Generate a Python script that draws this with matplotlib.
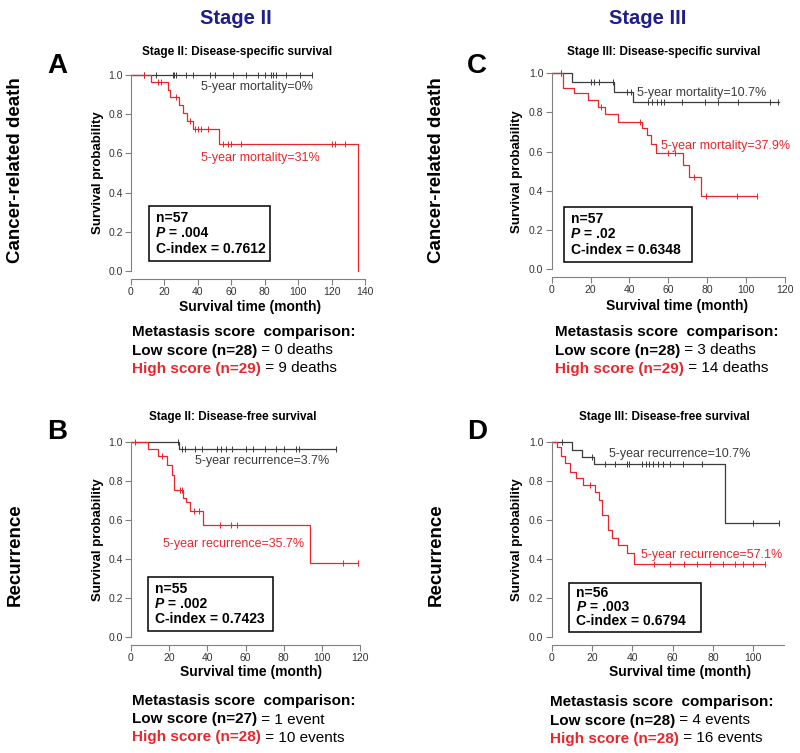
import matplotlib
matplotlib.use('Agg')
import matplotlib.pyplot as plt
from matplotlib.patches import Rectangle
from matplotlib import font_manager
import numpy as np

plt.rcParams['font.family'] = ['Liberation Sans', 'DejaVu Sans']

RED = '#e8262b'
DARK = '#3c3c3c'
NAVY = '#1e1e8c'
AXC = '#808080'

# --- A: Stage II, disease-specific survival (months)
a_low_t = [0]
a_low_s = [1.0]
a_low_end = 108
a_low_cens = [8, 15, 25, 26, 27, 33, 37, 47, 50, 61, 69, 76, 80, 84, 85, 87, 93, 101, 108]
a_high_t = [0, 12, 22, 23.5, 29, 31, 33.5, 37, 52.5, 136]
a_high_s = [1.0, .965, .926, .886, .847, .807, .767, .722, .647, 0.0]
a_high_end = 136
a_high_cens = [8, 16, 18, 27, 35, 38, 40, 42, 46, 55, 58, 60, 66, 120, 122, 128]

# --- B: Stage II, disease-free survival
b_low_t = [0, 25.3]
b_low_s = [1.0, .961]
b_low_end = 107.4
b_low_cens = [24.8, 26.6, 28.3, 33.5, 37, 45, 47, 50, 53, 60, 64, 70, 76, 80, 86.5, 88, 107.4]
b_high_t = [0, 9, 14.3, 19, 21.5, 22.3, 27.4, 28.8, 31, 37.6, 93.8]
b_high_s = [1.0, .963, .927, .881, .83, .753, .71, .693, .647, .574, .382]
b_high_end = 119
b_high_cens = [2, 16, 25.7, 26.6, 33, 35.5, 46.6, 52.2, 55.7, 111.3, 119]

# --- C: Stage III, disease-specific survival
c_low_t = [0, 10.3, 32, 41.7]
c_low_s = [1.0, .957, .906, .855]
c_low_end = 117
c_low_cens = [5, 20, 22, 24.5, 31.5, 38.6, 40.8, 49.7, 51.4, 54.3, 56.1, 57.8, 66.9,
              78.9, 85.7, 96, 112.3, 116.6]
c_high_t = [0, 5.7, 11.7, 18.9, 24, 27.5, 34.3, 46.3, 48.9, 51, 53.5, 67.7, 70.6, 76.6]
c_high_s = [1.0, .923, .898, .864, .828, .79, .753, .719, .685, .64, .595, .532, .472, .374]
c_high_end = 105.4
c_high_cens = [4.8, 25.5, 45.4, 60, 63.4, 73, 79.4, 95.5, 105.4]

# --- D: Stage III, disease-free survival
d_low_t = [0, 9.9, 14.9, 21, 86]
d_low_s = [1.0, .957, .923, .884, .586]
d_low_end = 112.9
d_low_cens = [5, 19.8, 26.4, 31.4, 37.2, 38.5, 44.6, 46.8, 48.4, 50.4, 52.6, 55, 58.7,
              65, 74.4, 99.7, 112.9]
d_high_t = [0, 2.8, 4.4, 6.6, 9.1, 12.1, 15.7, 21.5, 23.6, 24.8, 28.1, 29.8, 33, 37.2, 40.8]
d_high_s = [1.0, .971, .928, .89, .847, .813, .779, .744, .702, .625, .549, .506, .472, .43, .375]
d_high_end = 105.8
d_high_cens = [19, 50.7, 58.7, 65.6, 71.9, 78.5, 85.1, 90.9, 95, 100, 105.8]

subtitles = ['Stage II: Disease-specific survival', 'Stage II: Disease-free survival',
             'Stage III: Disease-specific survival', 'Stage III: Disease-free survival']
letters = ['A', 'B', 'C', 'D']
low_notes = ['5-year mortality=0%', '5-year recurrence=3.7%',
             '5-year mortality=10.7%', '5-year recurrence=10.7%']
high_notes = ['5-year mortality=31%', '5-year recurrence=35.7%',
              '5-year mortality=37.9%', '5-year recurrence=57.1%']
n_values = ['n=57', 'n=55', 'n=57', 'n=56']
p_values = ['.004', '.002', '.02', '.003']
c_index = ['0.7612', '0.7423', '0.6348', '0.6794']
low_groups = ['Low score (n=28)', 'Low score (n=27)', 'Low score (n=28)', 'Low score (n=28)']
low_counts = ['0 deaths', '1 event', '3 deaths', '4 events']
high_groups = ['High score (n=29)', 'High score (n=28)', 'High score (n=29)', 'High score (n=28)']
high_counts = ['9 deaths', '10 events', '14 deaths', '16 events']

W, H = 800, 753
fig = plt.figure(figsize=(W / 100, H / 100), dpi=100)
R = fig.canvas.get_renderer()

try:
    font_manager.findfont('Liberation Sans Narrow', fallback_to_default=False)
    TFONT, TSIZE, SSIZE = ['Liberation Sans Narrow', 'Liberation Sans'], 17.5, 9.8
except ValueError:
    TFONT, TSIZE, SSIZE = ['Liberation Sans', 'DejaVu Sans'], 14.5, 8.5


def ftext(px, py, s, **kw):
    return fig.text(px / W, 1 - py / H, s, **kw)


def runs(px, py, pieces, size, va='center'):
    # consecutive text pieces on one line, starting at pixel (px, py)
    for s, color, weight, style in pieces:
        t = ftext(px, py, s, color=color, fontweight=weight, fontstyle=style,
                  fontsize=size, va=va)
        px = t.get_window_extent(R).x1


def km(ax, t, s, end, cens, color):
    ax.step(list(t) + [end], list(s) + [s[-1]], where='post', color=color, lw=0.9)
    idx = np.searchsorted(t, cens, side='right') - 1
    ax.plot(cens, np.asarray(s)[idx], ls='none', marker='|', ms=4, mew=0.7, color=color)


def make_axes(px0, px1, xtick_max, xmax, py0, py1):
    sx = (px1 - px0) / xtick_max
    sy = py0 - py1
    ylo, yhi = -0.04, 1.02
    left, right = px0, px0 + xmax * sx
    bottom, top = py0 - ylo * sy, py1 - (yhi - 1) * sy
    ax = fig.add_axes([left / W, 1 - bottom / H, (right - left) / W, (bottom - top) / H])
    ax.set_xlim(0, xmax)
    ax.set_ylim(ylo, yhi)
    for sp in ['top', 'right']:
        ax.spines[sp].set_visible(False)
    ax.spines['left'].set_bounds(0, 1)
    ax.spines['bottom'].set_bounds(0, xmax)
    for sp in ['left', 'bottom']:
        ax.spines[sp].set_color(AXC)
        ax.spines[sp].set_linewidth(0.8)
    ax.set_xticks(np.arange(0, xtick_max + 1, 20))
    ax.set_yticks(np.arange(0, 1.01, 0.2))
    ax.set_yticklabels(['%.1f' % v for v in np.arange(0, 1.01, 0.2)])
    ax.tick_params(direction='out', length=4, width=0.8, color=AXC, labelcolor='#333333',
                   labelsize=7.5, pad=2)
    ax.patch.set_alpha(0)
    return ax


# panel geometry in pixels: x=0, x=last tick, last tick, x max, y=0, y=1
geo = [(131, 365, 140, 140, 271, 75),
       (131, 360, 120, 120, 637.3, 441.7),
       (551.7, 785, 120, 120, 269.3, 73.3),
       (551.7, 753.3, 100, 115, 637.3, 441.7)]
curves = [(a_low_t, a_low_s, a_low_end, a_low_cens, a_high_t, a_high_s, a_high_end, a_high_cens),
          (b_low_t, b_low_s, b_low_end, b_low_cens, b_high_t, b_high_s, b_high_end, b_high_cens),
          (c_low_t, c_low_s, c_low_end, c_low_cens, c_high_t, c_high_s, c_high_end, c_high_cens),
          (d_low_t, d_low_s, d_low_end, d_low_cens, d_high_t, d_high_s, d_high_end, d_high_cens)]
low_pos = [(42, 0.94), (33.5, 0.90), (44, 0.90), (28.6, 0.937)]
high_pos = [(42, 0.574), (17, 0.477), (56.3, 0.63), (44.1, 0.421)]
boxes = [(11, 83.2, 0.051, 0.332), (9.1, 74.2, 0.034, 0.31),
         (6.3, 72, 0.039, 0.32), (8.6, 73.9, 0.029, 0.279)]
sub_xy = [(237, 52), (233, 417), (664, 52), (664, 417)]
letter_xy = [(57, 66), (57, 432), (477, 66), (477, 432)]
xlabel_xy = [(250, 307), (251, 672), (677, 306), (680, 672)]
ylabel_x = [98, 98, 517, 517]
notes_xy = [(132, 332), (132, 701), (555, 332), (550, 702)]

for i in range(4):
    px0, px1, xt, xm, py0, py1 = geo[i]
    ax = make_axes(px0, px1, xt, xm, py0, py1)
    lt, ls_, le, lc, ht, hs, he, hc = curves[i]
    km(ax, lt, ls_, le, lc, DARK)
    km(ax, ht, hs, he, hc, RED)
    ax.text(*low_pos[i], low_notes[i], color=DARK, fontsize=9, va='center')
    ax.text(*high_pos[i], high_notes[i], color=RED, fontsize=9, va='center')

    x0, x1, y0, y1 = boxes[i]
    ax.add_patch(Rectangle((x0, y0), x1 - x0, y1 - y0, fill=True, fc='white', ec='black', lw=1.1))
    tx = x0 + 0.055 * (x1 - x0)
    fr = [0.22, 0.5, 0.79]
    ax.text(tx, y1 - fr[0] * (y1 - y0), n_values[i], fontsize=10, fontweight='bold', va='center')
    px, py = ax.transData.transform((tx, y1 - fr[1] * (y1 - y0)))
    runs(px, H - py, [('P', 'black', 'bold', 'italic'), (' = ' + p_values[i], 'black', 'bold', 'normal')], 10)
    ax.text(tx, y1 - fr[2] * (y1 - y0), 'C-index = ' + c_index[i], fontsize=10,
            fontweight='bold', va='center')

    ftext(*sub_xy[i], subtitles[i], fontsize=SSIZE, fontweight='bold', ha='center', va='center',
          family=TFONT)
    ftext(*letter_xy[i], letters[i], fontsize=20, fontweight='bold', ha='center', va='center')
    ftext(*xlabel_xy[i], 'Survival time (month)', fontsize=10, fontweight='bold',
          ha='center', va='center')
    ftext(ylabel_x[i], (py0 + py1) / 2, 'Survival probability', fontsize=9.5,
          fontweight='bold', rotation=90, ha='center', va='center')

    nx, ny = notes_xy[i]
    ftext(nx, ny, 'Metastasis score  comparison:', fontsize=11, fontweight='bold', va='center')
    runs(nx, ny + 18.5, [(low_groups[i], 'black', 'bold', 'normal'),
                         (' = ' + low_counts[i], 'black', 'normal', 'normal')], 11)
    runs(nx, ny + 36.5, [(high_groups[i], RED, 'bold', 'normal'),
                         (' = ' + high_counts[i], 'black', 'normal', 'normal')], 11)

# column headers and row labels
ftext(236, 19, 'Stage II', fontsize=TSIZE, fontweight='bold', color=NAVY, ha='center',
      va='center', family=TFONT)
ftext(648, 19, 'Stage III', fontsize=TSIZE, fontweight='bold', color=NAVY, ha='center',
      va='center', family=TFONT)
for x in [15.5, 436.5]:
    ftext(x, 170, 'Cancer-related death', fontsize=13.5, fontweight='bold', rotation=90,
          ha='center', va='center')
    ftext(x, 555, 'Recurrence', fontsize=13.5, fontweight='bold', rotation=90,
          ha='center', va='center')

fig.savefig('out.png', dpi=100)
